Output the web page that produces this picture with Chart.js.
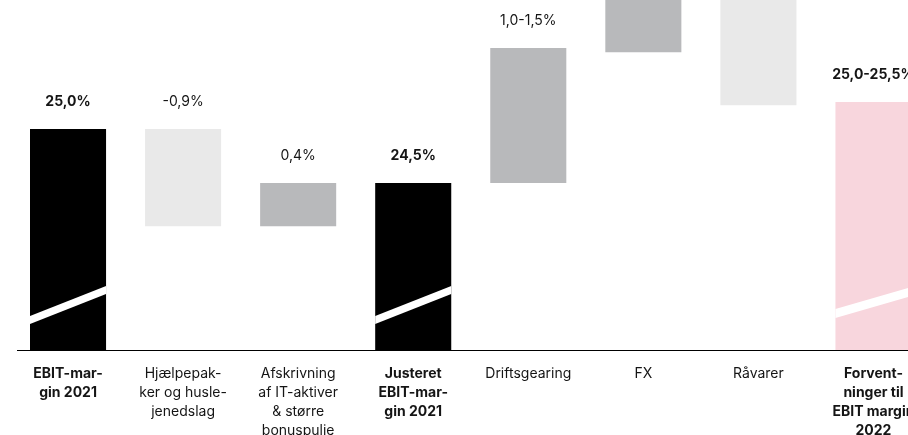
<!DOCTYPE html>
<html>
<head>
<meta charset="utf-8">
<script src="https://cdn.jsdelivr.net/npm/chart.js@4.4.1/dist/chart.umd.min.js"></script>
<style>
    html, body { margin: 0; padding: 0; background: #fff; overflow: hidden; width: 908px; height: 435px; }
    #wrap { position: relative; width: 931px; height: 461px; }
</style>
</head>
<body>
<div id="wrap"><canvas id="waterfall" width="931" height="461"></canvas></div>
<script>
// Category labels (multi-line, as in the source)
const categories = [
    ['EBIT-mar-', 'gin 2021'],
    ['Hjælpepak-', 'ker og husle-', 'jenedslag'],
    ['Afskrivning', 'af IT-aktiver', '& større', 'bonuspulje'],
    ['Justeret', 'EBIT-mar-', 'gin 2021'],
    ['Driftsgearing'],
    ['FX'],
    ['Råvarer'],
    ['Forvent-', 'ninger til', 'EBIT margin', '2022']
];

// EBIT margin in %; floating steps are [low, high], totals start at the (broken) axis
const barValues = [25.0, [24.1, 25.0], [24.1, 24.5], 24.5, [24.5, 25.75], [25.71, 26.75], [25.22, 26.75], 25.25];

// labels over each bar (FX and Råvarer are cut off above the picture)
const valueLabels = ['25,0%', '-0,9%', '0,4%', '24,5%', '1,0-1,5%', '', '', '25,0-25,5%'];
const isTotal = [true, false, false, true, false, false, false, true];

const barColors = ['#000000', '#e9e9e9', '#b8b9bb', '#000000', '#b8b9bb', '#b8b9bb', '#e9e9e9', '#f8d6dd'];

const FONT = 'Inter, Lato, sans-serif';
const TEXT_COLOR = '#151515';

/**
 * White diagonal stripe across the total bars to show the broken axis.
 * Offsets are measured up from the bottom of the bar: [left low, left high, right high, right low]
 */
function stripeFor(i) {
    return i === 7 ? [32, 41, 63, 54] : [26, 34, 64, 56];
}

const axisBreakPlugin = {
    id: 'axisBreak',
    afterDatasetsDraw(chart) {
        const ctx = chart.ctx;
        const meta = chart.getDatasetMeta(0);
        const bottom = chart.chartArea.bottom; // totals are clipped here
        ctx.save();
        ctx.fillStyle = '#ffffff';
        meta.data.forEach((bar, i) => {
            if (!isTotal[i]) return;
            const { x, width } = bar.getProps(['x', 'width'], true);
            const left = x - width / 2;
            const right = x + width / 2;
            const s = stripeFor(i);
            ctx.beginPath();
            ctx.moveTo(left, bottom - s[0]);
            ctx.lineTo(left, bottom - s[1]);
            ctx.lineTo(right, bottom - s[2]);
            ctx.lineTo(right, bottom - s[3]);
            ctx.closePath();
            ctx.fill();
        });

        // base line, starting a little right of the plot edge like the source
        ctx.strokeStyle = '#000';
        ctx.lineWidth = 1;
        ctx.beginPath();
        ctx.moveTo(17, bottom + 0.5);
        ctx.lineTo(chart.chartArea.right, bottom + 0.5);
        ctx.stroke();
        ctx.restore();
    }
};

/**
 * Value text above every bar.
 */
const valueLabelPlugin = {
    id: 'valueLabels',
    afterDatasetsDraw(chart) {
        const ctx = chart.ctx;
        const meta = chart.getDatasetMeta(0);
        ctx.save();
        ctx.fillStyle = TEXT_COLOR;
        ctx.textAlign = 'center';
        ctx.textBaseline = 'middle';
        meta.data.forEach((bar, i) => {
            if (!valueLabels[i]) return;
            const { x, y, base } = bar.getProps(['x', 'y', 'base'], true);
            const top = Math.min(y, base);
            ctx.font = `${isTotal[i] ? 'bold' : 'normal'} 14px ${FONT}`;
            ctx.fillText(valueLabels[i], x, top - 27);
        });
        ctx.restore();
    }
};

// y range chosen so 25,0% sits where the source puts it; the axis is broken below
const yMin = 22.954;
const yMax = 26.194;

new Chart(document.getElementById('waterfall').getContext('2d'), {
    type: 'bar',
    data: {
        labels: categories,
        datasets: [{
            data: barValues,
            backgroundColor: barColors,
            borderWidth: 0,
            barPercentage: 0.661,
            categoryPercentage: 1.0
        }]
    },
    options: {
        responsive: false,
        animation: false,
        devicePixelRatio: 1,
        layout: { padding: { left: 10.5, right: 0, top: 0, bottom: 7 } },
        scales: {
            x: {
                grid: { display: false, drawTicks: false },
                border: { display: false },
                ticks: {
                    color: TEXT_COLOR,
                    padding: 14,
                    autoSkip: false,
                    maxRotation: 0,
                    font: (c) => ({
                        family: FONT,
                        size: 14,
                        weight: isTotal[c.index] ? 'bold' : 'normal',
                        lineHeight: '19px'
                    })
                }
            },
            y: {
                display: false,
                min: yMin,
                max: yMax
            }
        },
        plugins: {
            legend: { display: false },
            tooltip: { enabled: false }
        }
    },
    plugins: [axisBreakPlugin, valueLabelPlugin]
});
</script>
</body>
</html>
